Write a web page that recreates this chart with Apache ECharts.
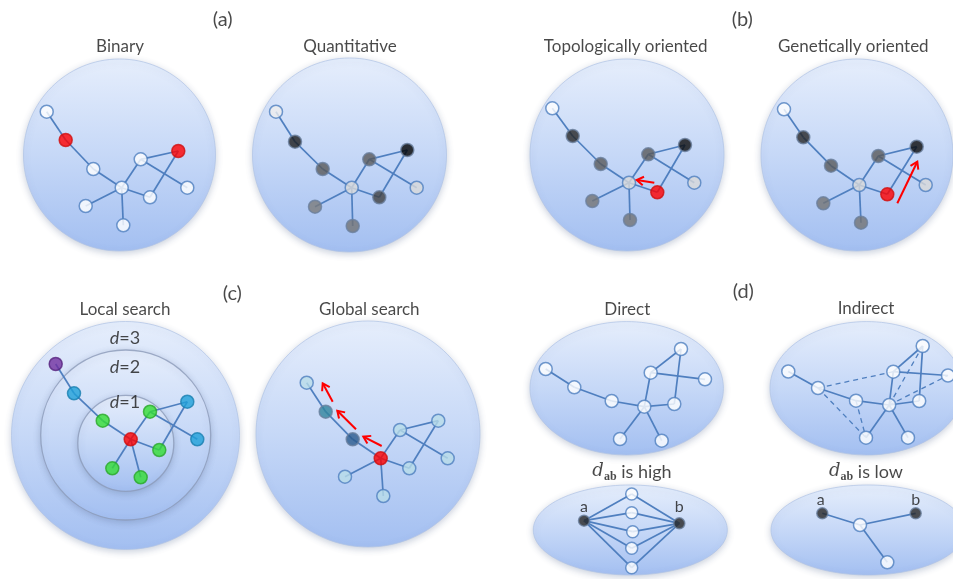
<!DOCTYPE html>
<html>
<head>
<meta charset="utf-8">
<script src="https://cdn.jsdelivr.net/npm/echarts@6/dist/echarts.min.js"></script>
<style>
  html, body { margin: 0; padding: 0; background: #fff; }
  #chart { width: 953px; height: 579px; }
</style>
</head>
<body>
<div id="chart"></div>
<script>
// ---- Network layouts (same 10-node topology in every large panel) ----
const edgesMain = [[0,1],[1,2],[2,3],[3,4],[4,5],[4,6],[5,7],[3,7],[3,8],[3,9]];
const edgesIndirectDashed = [[1,4],[1,8],[2,8],[3,5],[3,6]];

const nodesBinary = [[46.7,111.7],[65.7,140],[93.3,169],[121.7,187.7],[140.7,159.3],[178.3,151],[187.3,187.7],[150,197.3],[85.7,206],[123.3,225.3]];
const nodesQuant = [[276,111.7],[295,141.7],[322.7,169],[351.7,187.7],[369.3,159.3],[407.3,150],[416.7,187.7],[379.3,197.3],[315,206.7],[352.7,226]];
const nodesTopo = [[552.3,108.3],[572.7,136],[600.7,164],[629,182.7],[648.3,154.3],[685,145],[694.3,182.7],[657.3,192.3],[592.3,201],[630,220]];
const nodesGenetic = [[784,109.3],[803.3,137.3],[831,165.7],[859.3,185],[878.3,156],[916.7,146.7],[925.7,185],[887.3,194.3],[823.3,203.3],[861,222.7]];
const nodesLocal = [[55.7,364],[74,393.3],[102.7,420.7],[130.7,439.3],[150,411.7],[187.3,401.7],[197.3,439.3],[159.3,450],[112.3,468.3],[140.7,477.3]];
const nodesGlobal = [[306.7,382.7],[325.7,411.7],[352.7,439.3],[380.7,458.3],[400,430],[438.3,420.7],[447.7,458.3],[409.3,468.3],[345,476.7],[383.3,496]];
const nodesDirect = [[545.7,369],[574.3,387.3],[611.7,401],[644.3,406.7],[650.7,372.7],[681,349],[705,379.3],[674.3,404],[620,439],[661.7,440.7]];
const nodesIndirect = [[788.3,371.5],[818,388],[856,400.7],[889.2,405],[893.3,371.7],[922.7,346],[948,375.5],[919.2,401],[866,437.7],[908,437.7]];

const colorsBinary = ['#ffffff','#ff0000','#ffffff','#ffffff','#ffffff','#ff0000','#ffffff','#ffffff','#ffffff','#ffffff'];
const colorsQuant = ['#ededed','#1c1c1c','#595959','#dadada','#595959','#000000','#dadada','#404040','#7a7a7a','#737373'];
const colorsTopo = ['#ffffff','#262626','#595959','#dadada','#595959','#0a0a0a','#dadada','#ff0000','#737373','#737373'];
const colorsGenetic = ['#ffffff','#262626','#595959','#dadada','#595959','#0a0a0a','#dadada','#ff0000','#737373','#737373'];
const colorsLocal = ['#7030a0','#1ea0d8','#33dd33','#ff0000','#33dd33','#1ea0d8','#1ea0d8','#33dd33','#33dd33','#33dd33'];
const colorsGlobal = ['#b8dce8','#31859c','#2a5a8c','#ff0000','#b8dce8','#b8dce8','#b8dce8','#b8dce8','#b8dce8','#b8dce8'];
const colorsPlain = ['#ffffff','#ffffff','#ffffff','#ffffff','#ffffff','#ffffff','#ffffff','#ffffff','#ffffff','#ffffff'];

// small path-length examples
const highA = [584,520.7], highB = [679.3,523.3];
const highMid = [[631.7,494],[631.7,512.7],[632.7,531.7],[631.7,548.3],[631.7,567.7]];
const lowA = [822.3,513.3], lowB = [915.7,513.3], lowHub = [860,525], lowTail = [887.3,562.3];

// backgrounds: [cx, cy, rx, ry]
const discs = [
  [119.5,155,96,96],[349.5,155,97,97],[627,155,97,96],[857,155,96,96],
  [125.5,435.5,114,114],[125.7,435,85,85],[125.8,443.3,48,48],
  [368,434,112,113],
  [626.7,388.3,96.7,66.7],[866.7,388.3,96.7,66.7],
  [630.3,530,97,45],[868,530,97,45]
];
const ringDiscs = [5,6];

// movement arrows: [x1, y1, x2, y2], head at the second point
const arrows = [
  [654.3,182.7,636.7,180],
  [897.3,203.3,917.3,161.7],
  [381.7,446,363.3,436.7],
  [356,429.3,337.3,410.7],
  [332.7,401.7,322.7,383.3]
];

// texts: [x, y, text, style]
const texts = [
  [222.7,20,'(a)','panel'],[742.3,20,'(b)','panel'],[232.3,293.3,'(c)','panel'],[743.3,291.7,'(d)','panel'],
  [120,46.7,'Binary','title'],[350,46.7,'Quantitative','title'],
  [625.7,46.7,'Topologically oriented','title'],[853.3,46.7,'Genetically oriented','title'],
  [125,310,'Local search','title'],[369.3,310,'Global search','title'],
  [627.3,310,'Direct','title'],[866,308.3,'Indirect','title'],
  [125,338.3,'{it|d}{t|=3}','rich'],[125,366.7,'{it|d}{t|=2}','rich'],[125,401.7,'{it|d}{t|=1}','rich'],
  [632,471.7,'{sd|d}{sub|ab}{t| is high}','rich'],[866,471.7,'{sd|d}{sub|ab}{t| is low}','rich'],
  [584,507.3,'a','small'],[679.3,507.3,'b','small'],[820.7,500,'a','small'],[915.7,500,'b','small']
];

const FONT = 'Lato';
const EDGE = '#4f7fbf';
const INK = '#1a1a1a';

function edgeData(nodes, list) {
  return list.map(e => ({ coords: [nodes[e[0]], nodes[e[1]]] }));
}
function borderFor(c) {
  if (c === '#ff0000') return '#d01010';
  if (c === '#ffffff' || c === '#ededed' || c === '#dadada' || c === '#b8dce8') return '#4f7fbf';
  if (c === '#33dd33') return '#2aa82a';
  if (c === '#1ea0d8') return '#1a7fb0';
  if (c === '#7030a0') return '#56237e';
  return '#6a7f9e';
}
function nodeData(nodes, colors, size) {
  return nodes.map((p, i) => ({
    value: p,
    symbolSize: size,
    itemStyle: { color: colors[i], borderColor: borderFor(colors[i]), borderWidth: 1.5 }
  }));
}

const solidEdges = []
  .concat(edgeData(nodesBinary, edgesMain))
  .concat(edgeData(nodesQuant, edgesMain))
  .concat(edgeData(nodesTopo, edgesMain))
  .concat(edgeData(nodesGenetic, edgesMain))
  .concat(edgeData(nodesLocal, edgesMain))
  .concat(edgeData(nodesGlobal, edgesMain))
  .concat(edgeData(nodesDirect, edgesMain))
  .concat(edgeData(nodesIndirect, edgesMain))
  .concat(highMid.map(m => ({ coords: [highA, m] })))
  .concat(highMid.map(m => ({ coords: [highB, m] })))
  .concat([{ coords: [lowA, lowHub] }, { coords: [lowB, lowHub] }, { coords: [lowHub, lowTail] }]);

const dashedEdges = edgeData(nodesIndirect, edgesIndirectDashed);

const allNodes = []
  .concat(nodeData(nodesBinary, colorsBinary, 13))
  .concat(nodeData(nodesQuant, colorsQuant, 13))
  .concat(nodeData(nodesTopo, colorsTopo, 13))
  .concat(nodeData(nodesGenetic, colorsGenetic, 13))
  .concat(nodeData(nodesLocal, colorsLocal, 13))
  .concat(nodeData(nodesGlobal, colorsGlobal, 13))
  .concat(nodeData(nodesDirect, colorsPlain, 13))
  .concat(nodeData(nodesIndirect, colorsPlain, 13))
  .concat(nodeData(highMid, colorsPlain, 12))
  .concat(nodeData([highA, highB, lowA, lowB], ['#262626','#262626','#262626','#262626'], 11))
  .concat(nodeData([lowHub, lowTail], colorsPlain, 13));

const textStyles = {
  panel: { fontSize: 20, color: INK },
  title: { fontSize: 17, color: INK },
  small: { fontSize: 16, color: INK },
  rich: { fontSize: 18, color: INK }
};

const chart = echarts.init(document.getElementById('chart'), null, { renderer: 'canvas' });

chart.setOption({
  animation: false,
  backgroundColor: '#ffffff',
  grid: { left: 0, top: 0, width: 953, height: 579 },
  xAxis: { type: 'value', min: 0, max: 953, show: false },
  yAxis: { type: 'value', min: 0, max: 579, inverse: true, show: false },
  series: [
    {
      type: 'custom',
      name: 'discs',
      data: discs.map((d, i) => d.concat([ringDiscs.indexOf(i) >= 0 ? 1 : 0])),
      z: 1,
      renderItem: function (params, api) {
        const c = api.coord([api.value(0), api.value(1)]);
        const s = api.size([api.value(2), api.value(3)]);
        const ring = api.value(4) === 1;
        return {
          type: 'ellipse',
          shape: { cx: c[0], cy: c[1], rx: s[0], ry: s[1] },
          style: {
            fill: new echarts.graphic.LinearGradient(0, 0, 0, 1, [
              { offset: 0, color: '#e6eefc' },
              { offset: 0.5, color: '#c6d8f7' },
              { offset: 1, color: '#a3bff1' }
            ]),
            stroke: ring ? 'rgba(140,155,185,0.8)' : 'rgba(175,195,230,0.7)',
            lineWidth: ring ? 1.3 : 1,
            shadowBlur: 7,
            shadowColor: 'rgba(80,100,140,0.3)',
            shadowOffsetY: 2
          }
        };
      }
    },
    {
      type: 'lines',
      name: 'edges',
      coordinateSystem: 'cartesian2d',
      z: 2,
      lineStyle: { color: EDGE, width: 1.7, opacity: 1 },
      data: solidEdges
    },
    {
      type: 'lines',
      name: 'indirect',
      coordinateSystem: 'cartesian2d',
      z: 2,
      lineStyle: { color: EDGE, width: 1.3, type: [5, 4], opacity: 1 },
      data: dashedEdges
    },
    {
      type: 'scatter',
      name: 'nodes',
      z: 3,
      data: allNodes
    },
    {
      type: 'custom',
      name: 'arrows',
      z: 4,
      data: arrows,
      renderItem: function (params, api) {
        const p1 = api.coord([api.value(0), api.value(1)]);
        const p2 = api.coord([api.value(2), api.value(3)]);
        const ang = Math.atan2(p2[1] - p1[1], p2[0] - p1[0]);
        const L = 8, A = Math.PI / 5.5;
        const h1 = [p2[0] - L * Math.cos(ang - A), p2[1] - L * Math.sin(ang - A)];
        const h2 = [p2[0] - L * Math.cos(ang + A), p2[1] - L * Math.sin(ang + A)];
        return {
          type: 'group',
          children: [
            { type: 'line', shape: { x1: p1[0], y1: p1[1], x2: p2[0], y2: p2[1] },
              style: { stroke: '#ff0000', lineWidth: 2 } },
            { type: 'polyline', shape: { points: [h1, p2, h2] },
              style: { stroke: '#ff0000', lineWidth: 2, fill: null } }
          ]
        };
      }
    },
    {
      type: 'scatter',
      name: 'texts',
      z: 5,
      symbolSize: 0,
      silent: true,
      data: texts.map(t => ({
        value: [t[0], t[1]],
        name: t[2],
        label: Object.assign({
          show: true,
          position: 'inside',
          formatter: t[2],
          fontFamily: FONT,
          align: 'center',
          verticalAlign: 'middle'
        }, textStyles[t[3]])
      })),
      label: {
        rich: {
          it: { fontFamily: FONT, fontStyle: 'italic', fontSize: 18, color: INK },
          t: { fontFamily: FONT, fontSize: 18, color: INK },
          sd: { fontFamily: 'DejaVu Serif', fontStyle: 'italic', fontSize: 18, color: INK },
          sub: { fontFamily: 'Liberation Serif', fontWeight: 'bold', fontSize: 12, color: INK, padding: [10, 0, 0, 0] }
        }
      }
    }
  ]
});
</script>
</body>
</html>
